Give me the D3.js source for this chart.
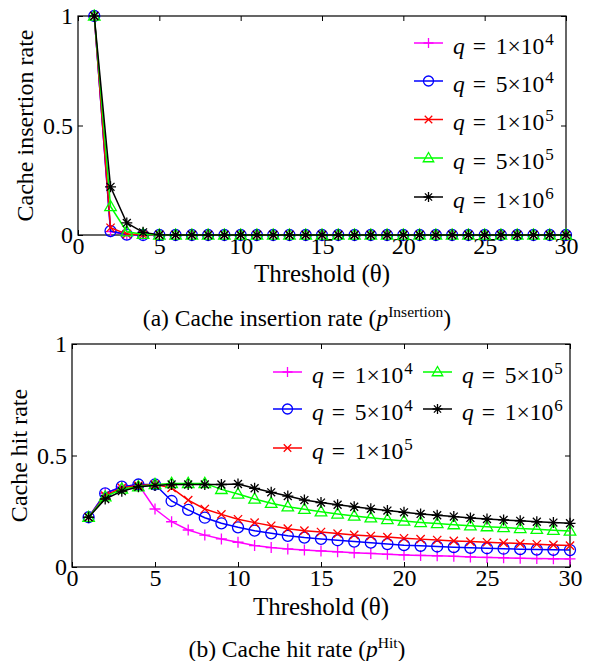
<!DOCTYPE html>
<html>
<head>
<meta charset="utf-8">
<script src="https://cdn.jsdelivr.net/npm/d3@7"></script>
</head>
<body style="margin:0; background:#fff">
<div id="main-svg"></div>
<script>
// thresholds on the x axis
var thresholds = [1, 2, 3, 4, 5, 6, 7, 8, 9, 10, 11, 12, 13, 14, 15,
  16, 17, 18, 19, 20, 21, 22, 23, 24, 25, 26, 27, 28, 29, 30];

var xTicks = [0, 5, 10, 15, 20, 25, 30];
var yTicks = [0, 0.5, 1];

// series names (mantissa, exponent) for q
var seriesMantissa = ["1", "5", "1", "5", "1"];
var seriesExponent = ["4", "4", "5", "5", "6"];

// (a) cache insertion rate
var insQ1e4 = [1, 0.015, 0.001, 0, 0, 0, 0, 0, 0, 0, 0, 0, 0, 0, 0, 0, 0, 0, 0, 0, 0, 0, 0, 0, 0, 0, 0, 0, 0, 0];
var insQ5e4 = [1, 0.018, 0.002, 0, 0, 0, 0, 0, 0, 0, 0, 0, 0, 0, 0, 0, 0, 0, 0, 0, 0, 0, 0, 0, 0, 0, 0, 0, 0, 0];
var insQ1e5 = [1, 0.033, 0.004, 0.001, 0, 0, 0, 0, 0, 0, 0, 0, 0, 0, 0, 0, 0, 0, 0, 0, 0, 0, 0, 0, 0, 0, 0, 0, 0, 0];
var insQ5e5 = [1, 0.13, 0.015, 0.003, 0, 0, 0, 0, 0, 0, 0, 0, 0, 0, 0, 0, 0, 0, 0, 0, 0, 0, 0, 0, 0, 0, 0, 0, 0, 0];
var insQ1e6 = [1, 0.22, 0.055, 0.012, 0.001, 0, 0, 0, 0, 0, 0, 0, 0, 0, 0, 0, 0, 0, 0, 0, 0, 0, 0, 0, 0, 0, 0, 0, 0, 0];

// (b) cache hit rate
var hitQ1e4 = [0.223, 0.33, 0.36, 0.37, 0.26, 0.203, 0.166, 0.143, 0.126, 0.111, 0.096, 0.087, 0.081, 0.076, 0.072,
  0.068, 0.064, 0.061, 0.057, 0.054, 0.052, 0.050, 0.048, 0.045, 0.043, 0.041, 0.039, 0.038, 0.037, 0.036];
var hitQ5e4 = [0.223, 0.33, 0.36, 0.37, 0.37, 0.296, 0.256, 0.221, 0.196, 0.178, 0.163, 0.151, 0.140, 0.132, 0.126,
  0.120, 0.114, 0.109, 0.103, 0.098, 0.095, 0.092, 0.089, 0.086, 0.084, 0.082, 0.080, 0.078, 0.077, 0.076];
var hitQ1e5 = [0.223, 0.32, 0.355, 0.365, 0.37, 0.355, 0.30, 0.26, 0.236, 0.214, 0.199, 0.185, 0.172, 0.163, 0.157,
  0.150, 0.144, 0.139, 0.134, 0.129, 0.125, 0.121, 0.117, 0.114, 0.111, 0.108, 0.105, 0.102, 0.099, 0.096];
var hitQ5e5 = [0.223, 0.315, 0.35, 0.36, 0.37, 0.375, 0.375, 0.375, 0.348, 0.327, 0.305, 0.286, 0.270, 0.259, 0.248,
  0.238, 0.229, 0.221, 0.213, 0.206, 0.200, 0.195, 0.190, 0.185, 0.181, 0.177, 0.173, 0.169, 0.165, 0.161];
var hitQ1e6 = [0.223, 0.305, 0.34, 0.36, 0.365, 0.37, 0.37, 0.37, 0.37, 0.372, 0.353, 0.335, 0.318, 0.300, 0.289,
  0.279, 0.270, 0.261, 0.253, 0.245, 0.238, 0.232, 0.226, 0.220, 0.215, 0.211, 0.207, 0.203, 0.199, 0.196];

var colors = ["#ff00ff", "#0000ff", "#ff0000", "#00ff00", "#000000"];
var markers = ["plus", "circle", "cross", "triangle", "star"];

var FONT = "Liberation Serif";

var svg = d3.select("#main-svg").append("svg")
  .attr("width", 595)
  .attr("height", 661)
  .attr("font-family", FONT);

// marker shape drawn around 0,0
function markerPath(type, r) {
  var p = d3.path();
  if (type === "plus") {
    p.moveTo(-r, 0); p.lineTo(r, 0); p.moveTo(0, -r); p.lineTo(0, r);
  } else if (type === "circle") {
    p.moveTo(r, 0); p.arc(0, 0, r, 0, 2 * Math.PI);
  } else if (type === "cross") {
    var c = r * 0.75;
    p.moveTo(-c, -c); p.lineTo(c, c); p.moveTo(-c, c); p.lineTo(c, -c);
  } else if (type === "triangle") {
    p.moveTo(0, -r * 1.1); p.lineTo(r * 1.05, r * 0.75); p.lineTo(-r * 1.05, r * 0.75); p.closePath();
  } else if (type === "star") {
    var c2 = r * 0.72;
    p.moveTo(-r, 0); p.lineTo(r, 0); p.moveTo(0, -r); p.lineTo(0, r);
    p.moveTo(-c2, -c2); p.lineTo(c2, c2); p.moveTo(-c2, c2); p.lineTo(c2, -c2);
  }
  return p.toString();
}

function drawMarker(g, type, color, r) {
  g.append("path")
    .attr("d", markerPath(type, r))
    .attr("fill", "none")
    .attr("stroke", color)
    .attr("stroke-width", 1.3);
}

// "q = 1x10^4" with tex-like spacing
function legendLabel(g, x, y, i) {
  var t = g.append("text").attr("x", x).attr("y", y)
    .attr("font-family", FONT).attr("font-size", 23.5).attr("fill", "#000");
  t.append("tspan").attr("font-style", "italic").text("q");
  t.append("tspan").attr("dx", 2).text(" =");
  t.append("tspan").attr("dx", 4).text(" " + seriesMantissa[i] + "\u00d710");
  t.append("tspan").attr("dx", 1).attr("dy", -9).attr("font-size", 17).text(seriesExponent[i]);
}

function drawPanel(p) {
  var x = d3.scaleLinear().domain([0, 30]).range([p.left, p.right]);
  var y = d3.scaleLinear().domain([0, 1]).range([p.bottom, p.top]);

  var g = svg.append("g");

  // axes, ticks pointing inward
  g.append("g")
    .attr("transform", "translate(0," + p.bottom + ")")
    .call(d3.axisBottom(x).tickValues(xTicks).tickSizeInner(-5).tickSizeOuter(0).tickPadding(2));
  g.append("g")
    .attr("transform", "translate(0," + p.top + ")")
    .call(d3.axisTop(x).tickValues(xTicks).tickSizeInner(-5).tickSizeOuter(0).tickFormat(""));
  g.append("g")
    .attr("transform", "translate(" + p.left + ",0)")
    .call(d3.axisLeft(y).tickValues(yTicks).tickSizeInner(-5).tickSizeOuter(0).tickPadding(5)
      .tickFormat(function (d) { return d; }));
  g.append("g")
    .attr("transform", "translate(" + p.right + ",0)")
    .call(d3.axisRight(y).tickValues(yTicks).tickSizeInner(-5).tickSizeOuter(0).tickFormat(""));

  g.selectAll(".domain").remove();
  g.selectAll(".tick line").attr("stroke", "#000");
  g.selectAll("g").attr("font-family", FONT).attr("font-size", 24);
  g.selectAll(".tick text")
    .attr("font-family", FONT)
    .attr("font-size", 24)
    .attr("fill", "#000");

  // box
  g.append("rect")
    .attr("x", p.left).attr("y", p.top)
    .attr("width", p.right - p.left).attr("height", p.bottom - p.top)
    .attr("fill", "none").attr("stroke", "#000").attr("stroke-width", 1.2);

  // lines and markers
  var line = d3.line()
    .x(function (d) { return x(d.t); })
    .y(function (d) { return y(d.v); });

  p.series.forEach(function (vals, i) {
    var data = thresholds.map(function (t, k) { return { t: t, v: vals[k] }; });
    g.append("path")
      .datum(data)
      .attr("fill", "none")
      .attr("stroke", colors[i])
      .attr("stroke-width", 1.5)
      .attr("d", line);
    data.forEach(function (d) {
      var m = g.append("g").attr("transform", "translate(" + x(d.t) + "," + y(d.v) + ")");
      drawMarker(m, markers[i], colors[i], 5.5);
    });
  });

  // legend
  p.legend.forEach(function (pos, i) {
    var lg = svg.append("g");
    lg.append("line")
      .attr("x1", pos[0]).attr("x2", pos[0] + 29)
      .attr("y1", pos[1]).attr("y2", pos[1])
      .attr("stroke", colors[i]).attr("stroke-width", 1.5);
    var m = lg.append("g").attr("transform", "translate(" + (pos[0] + 14.5) + "," + pos[1] + ")");
    drawMarker(m, markers[i], colors[i], 5);
    legendLabel(lg, pos[0] + 39, pos[1] + 10.5, i);
  });

  // axis titles
  svg.append("text")
    .attr("transform", "translate(" + p.yTitleX + "," + ((p.top + p.bottom) / 2) + ") rotate(-90)")
    .attr("text-anchor", "middle")
    .attr("font-family", FONT)
    .attr("font-size", 24)
    .text(p.yTitle);

  svg.append("text")
    .attr("x", (p.left + p.right) / 2)
    .attr("y", p.xTitleY)
    .attr("text-anchor", "middle")
    .attr("font-family", FONT)
    .attr("font-size", 25)
    .text("Threshold (\u03b8)");

  // caption
  var cap = svg.append("text")
    .attr("x", 297)
    .attr("y", p.captionY)
    .attr("text-anchor", "middle")
    .attr("font-family", FONT)
    .attr("font-size", 23.5);
  cap.append("tspan").text(p.caption + " (");
  cap.append("tspan").attr("font-style", "italic").text("p");
  cap.append("tspan").attr("dy", -9).attr("font-size", 15.5).text(p.captionSup);
  cap.append("tspan").attr("dy", 9).text(")");
}

drawPanel({
  left: 78, right: 566, top: 16, bottom: 235,
  series: [insQ1e4, insQ5e4, insQ1e5, insQ5e5, insQ1e6],
  legend: [[414, 43], [414, 81], [414, 119.5], [414, 158], [414, 197]],
  yTitle: "Cache insertion rate", yTitleX: 33,
  xTitleY: 282,
  caption: "(a) Cache insertion rate", captionSup: "Insertion", captionY: 326
});

drawPanel({
  left: 72, right: 570, top: 344, bottom: 567,
  series: [hitQ1e4, hitQ5e4, hitQ1e5, hitQ5e5, hitQ1e6],
  legend: [[273, 372], [273, 409], [273, 448], [423, 372], [423, 409]],
  yTitle: "Cache hit rate", yTitleX: 27,
  xTitleY: 615,
  caption: "(b) Cache hit rate", captionSup: "Hit", captionY: 657
});
</script>
</body>
</html>
